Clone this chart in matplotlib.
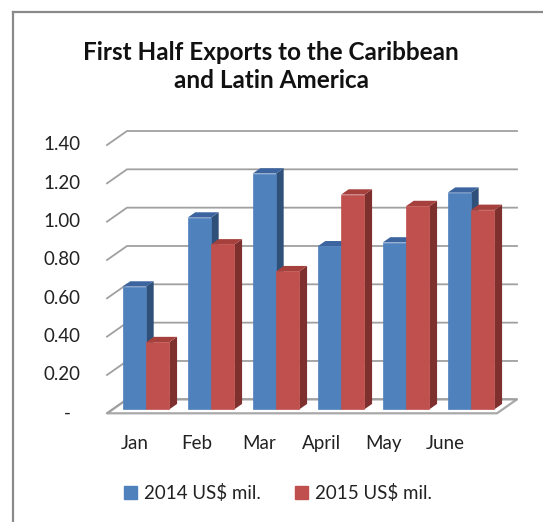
import matplotlib
matplotlib.use("Agg")
import matplotlib.pyplot as plt
from matplotlib.patches import Polygon, Patch
from matplotlib.lines import Line2D

# ---- data ----
months = ["Jan", "Feb", "Mar", "April", "May", "June"]
exports_2014 = [0.64, 1.00, 1.23, 0.85, 0.87, 1.13]
exports_2015 = [0.35, 0.86, 0.72, 1.12, 1.06, 1.04]
series_names = ["2014 US$ mil.", "2015 US$ mil."]
tick_values = [0.0, 0.2, 0.4, 0.6, 0.8, 1.0, 1.2, 1.4]
tick_labels = ["-", "0.20", "0.40", "0.60", "0.80", "1.00", "1.20", "1.40"]

# ---- style ----
face_colors = ["#4F81BD", "#C0504D"]
side_colors = ["#2F5079", "#7E302E"]
top_colors = ["#3C65A0", "#A5403D"]
grid_color = "#A0A0A0"
font = "Lato"

W, H = 543, 522
fig = plt.figure(figsize=(W / 100, H / 100), dpi=100)
fig.patch.set_facecolor("white")

# front plane of the 3D box in pixels (from top-left)
px_left, px_right = 107, 497
px_zero, px_top = 413.3, 145.0
ax = fig.add_axes([px_left / W, (H - px_zero) / H,
                   (px_right - px_left) / W, (px_zero - px_top) / H])
n = len(months)
vmax = 1.4
ax.set_xlim(0, n)
ax.set_ylim(0, vmax)
ax.axis("off")

# oblique depth: full depth of the box in pixels
depth_px = (20.0, 14.0)
DX = depth_px[0] / ((px_right - px_left) / n)
DY = depth_px[1] / ((px_zero - px_top) / vmax)


def proj(x, v, d):
    return (x + d * DX, v + d * DY)


def poly(points, color, z, edge=None, lw=0.0):
    p = Polygon(points, closed=True, facecolor=color,
                edgecolor=edge if edge else color, linewidth=lw,
                clip_on=False, zorder=z)
    ax.add_patch(p)


# floor
floor = [proj(0, 0, 0), proj(n, 0, 0), proj(n, 0, 1), proj(0, 0, 1)]
poly(floor, "white", 1, edge="#A8A8A8", lw=1.6)

# gridlines on the left and back walls
for v in tick_values:
    xs, ys = zip(proj(0, v, 0), proj(0, v, 1), proj(n, v, 1))
    ax.plot(xs, ys, color=grid_color, lw=1.3, clip_on=False, zorder=2,
            solid_joinstyle="miter")

# tick labels
for v, lab in zip(tick_values, tick_labels):
    if lab == "-":
        ax.text(-0.615, v, lab, ha="center", va="center", fontsize=13.5,
                family=font, color="#222222")
    else:
        ax.text(-0.40, v, lab, ha="right", va="center", fontsize=13.5,
                family=font, color="#222222")

# bars
d0, d1 = 0.29, 0.67
bar_w = 0.36
offset = 0.152
z = 3
for i in range(n):
    for j, vals in enumerate([exports_2014, exports_2015]):
        v = vals[i]
        x0 = i + offset + j * bar_w
        x1 = x0 + bar_w
        # side face
        poly([proj(x1, 0, d0), proj(x1, v, d0), proj(x1, v, d1), proj(x1, 0, d1)],
             side_colors[j], z)
        # top face
        poly([proj(x0, v, d0), proj(x1, v, d0), proj(x1, v, d1), proj(x0, v, d1)],
             top_colors[j], z)
        # front face
        poly([proj(x0, 0, d0), proj(x1, 0, d0), proj(x1, v, d0), proj(x0, v, d0)],
             face_colors[j], z, edge=face_colors[j], lw=0.5)
        z += 1

# category labels
for i, m in enumerate(months):
    ax.text(0.42 + 0.958 * i, -0.155, m, ha="center", va="center",
            fontsize=13.5, family=font, color="#222222")

# title
fig.text(271 / W, 1 - 53 / H, "First Half Exports to the Caribbean",
         ha="center", va="center", fontsize=17.5, fontweight="bold",
         family=font, color="#111111")
fig.text(271 / W, 1 - 80 / H, "and Latin America",
         ha="center", va="center", fontsize=17.5, fontweight="bold",
         family=font, color="#111111")

# legend
handles = [Patch(facecolor=c, edgecolor=c) for c in face_colors]
leg = fig.legend(handles, series_names, loc="center",
                 bbox_to_anchor=(278 / W, 1 - 493 / H), ncol=2,
                 frameon=False, handlelength=0.7, handleheight=0.7,
                 handletextpad=0.4, columnspacing=1.8,
                 prop={"family": font, "size": 13.5})
for t in leg.get_texts():
    t.set_color("#222222")

# chart border (top and left edges)
fig.add_artist(Line2D([13 / W, 1.0], [1 - 12 / H, 1 - 12 / H],
                      transform=fig.transFigure, color="#8A8A8A", lw=1.6))
fig.add_artist(Line2D([13 / W, 13 / W], [1 - 12 / H, 0.0],
                      transform=fig.transFigure, color="#8A8A8A", lw=1.6))

fig.savefig("out.png", dpi=100, facecolor="white")
